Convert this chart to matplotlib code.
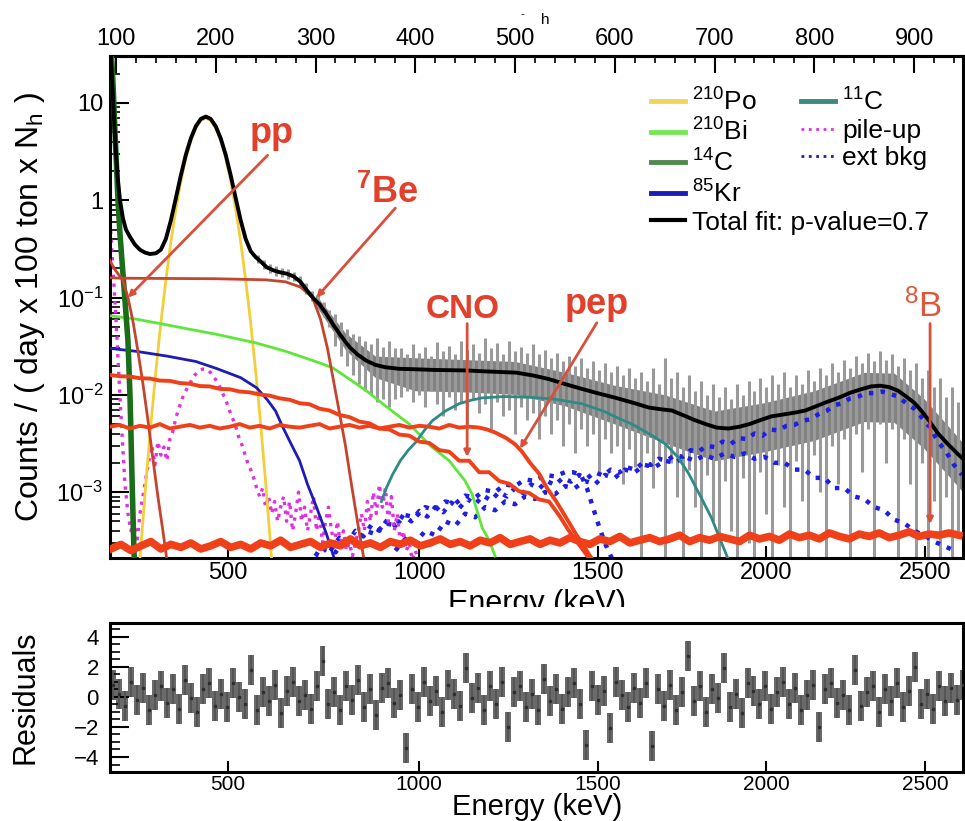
import numpy as np
import matplotlib
matplotlib.use("Agg")
import matplotlib.pyplot as plt
from matplotlib.lines import Line2D
from matplotlib.patches import Rectangle
from matplotlib.ticker import FixedLocator, FixedFormatter, NullFormatter, LogLocator, MultipleLocator

plt.rcParams['font.family'] = ['Liberation Sans', 'DejaVu Sans']
plt.rcParams['mathtext.fontset'] = 'custom'
plt.rcParams['mathtext.rm'] = 'Liberation Sans'
plt.rcParams['mathtext.it'] = 'Liberation Sans:italic'
plt.rcParams['mathtext.bf'] = 'Liberation Sans:bold'

# ---- Data (x in N_h, y in counts / (day x 100 ton x N_h)) ----
top_ticks = [100, 200, 300, 400, 500, 600, 700, 800, 900]
energy_ticks_kev = [500, 1000, 1500, 2000, 2500]
energy_ticks_nh = [212, 404, 583, 752, 911]

# total fit
tot_nh = [94, 96, 98, 100, 102, 104, 107, 110, 114, 119, 124, 129, 134, 140, 145, 150, 155, 160, 165, 170,
          175, 180, 185, 190, 195, 200, 205, 210, 215, 220, 225, 230, 235, 240, 245, 251, 258, 264, 271, 278,
          285, 291, 298, 304, 310, 317, 325, 334, 342, 351, 360, 370, 384, 400, 420, 451, 470, 501, 518, 534,
          550, 567, 584, 601, 618, 634, 646, 657, 668, 680, 691, 702, 714, 725, 735, 746, 757, 770, 782, 791,
          800, 812, 824, 836, 848, 857, 866, 875, 884, 892, 900, 907, 914, 924, 934, 944, 949]
tot_val = [45, 18, 7.0, 3.0, 1.6, 1.0, 0.65, 0.50, 0.42, 0.35, 0.31, 0.29, 0.28, 0.285, 0.31, 0.40, 0.62, 1.05, 1.8, 2.93,
           4.32, 5.75, 6.85, 7.25, 6.85, 5.75, 4.32, 2.93, 1.8, 1.05, 0.62, 0.40, 0.30, 0.26, 0.235, 0.205, 0.19, 0.182, 0.176, 0.165,
           0.145, 0.12, 0.098, 0.085, 0.070, 0.054, 0.041, 0.031, 0.026, 0.0224, 0.0203, 0.0192, 0.0185, 0.0183, 0.018, 0.0178, 0.0174, 0.0169, 0.0158, 0.0145,
           0.0129, 0.0115, 0.0103, 0.0093, 0.0083, 0.0074, 0.0071, 0.0069, 0.0062, 0.0055, 0.0050, 0.0046, 0.0045, 0.0047, 0.0050, 0.0055, 0.0060, 0.0063, 0.0066, 0.0069,
           0.0075, 0.0084, 0.0093, 0.0105, 0.0115, 0.0122, 0.0124, 0.012, 0.011, 0.0096, 0.0083, 0.0069, 0.0056, 0.0040, 0.0031, 0.00245, 0.0022]

# data error bars (upper / lower ends), bins of 6 N_h from 242
data_hi = [0.275, 0.245, 0.222, 0.21, 0.2, 0.196, 0.185, 0.166, 0.14, 0.117,
           0.105, 0.090, 0.074, 0.068, 0.056, 0.047, 0.042, 0.040, 0.036, 0.033,
           0.038, 0.031, 0.036, 0.030, 0.030, 0.026, 0.033, 0.027, 0.031, 0.025,
           0.035, 0.028, 0.032, 0.026, 0.036, 0.029, 0.033, 0.027, 0.038, 0.030,
           0.034, 0.026, 0.036, 0.028, 0.031, 0.027, 0.033, 0.026, 0.029, 0.024,
           0.027, 0.022, 0.025, 0.020, 0.024, 0.019, 0.022, 0.018, 0.021, 0.017,
           0.020, 0.016, 0.019, 0.015, 0.017, 0.014, 0.019, 0.013, 0.024, 0.015,
           0.017, 0.012, 0.016, 0.011, 0.014, 0.010, 0.013, 0.0095, 0.012, 0.0090,
           0.013, 0.010, 0.014, 0.011, 0.015, 0.012, 0.016, 0.013, 0.017, 0.012,
           0.016, 0.013, 0.018, 0.014, 0.019, 0.016, 0.021, 0.017, 0.023, 0.019,
           0.025, 0.021, 0.027, 0.022, 0.028, 0.023, 0.026, 0.020, 0.024, 0.018,
           0.021, 0.015, 0.018, 0.012, 0.015, 0.0095, 0.012, 0.0085]
data_lo = [0.226, 0.198, 0.18, 0.168, 0.161, 0.156, 0.147, 0.131, 0.109, 0.092,
           0.080, 0.063, 0.050, 0.032, 0.025, 0.020, 0.016, 0.013, 0.011, 0.010,
           0.0085, 0.009, 0.0075, 0.009, 0.0095, 0.011, 0.0085, 0.010, 0.0075, 0.011,
           0.008, 0.006, 0.0095, 0.007, 0.0085, 0.005, 0.009, 0.0065, 0.008, 0.0045,
           0.0085, 0.006, 0.007, 0.004, 0.0075, 0.0055, 0.0065, 0.0035, 0.006, 0.004,
           0.0055, 0.003, 0.005, 0.0025, 0.0045, 0.003, 0.004, 0.0015, 0.0035, 0.0025,
           0.003, 0.0012, 0.0028, 0.0018, 0.0001, 0.0025, 0.0011, 0.0022, 0.0001, 0.0020,
           0.0009, 0.0001, 0.0017, 0.0007, 0.0001, 0.0015, 0.0005, 0.0001, 0.0013, 0.0004,
           0.0001, 0.0014, 0.0003, 0.0001, 0.0016, 0.0006, 0.0001, 0.0019, 0.0007, 0.0001,
           0.0021, 0.0008, 0.0001, 0.0024, 0.0010, 0.0001, 0.0030, 0.0012, 0.0035, 0.0001,
           0.0040, 0.0016, 0.0045, 0.0001, 0.0050, 0.0020, 0.0045, 0.0001, 0.0035, 0.0012,
           0.0001, 0.0020, 0.0001, 0.0008, 0.0001, 0.0009, 0.0001, 0.0004]
data_nh = np.arange(len(data_hi)) * 6 + 242
# dense core of the data points
core_nh = [300, 330, 360, 400, 450, 500, 550, 600, 650, 700, 750, 800, 850, 880, 910, 949]
core_hi = [0.108, 0.043, 0.025, 0.024, 0.023, 0.022, 0.017, 0.0125, 0.010, 0.0068, 0.0083, 0.011, 0.017,
           0.0167, 0.0091, 0.0032]
core_lo = [0.084, 0.029, 0.015, 0.011, 0.0107, 0.0101, 0.0077, 0.0050, 0.0032, 0.0021, 0.0026, 0.0034, 0.0053,
           0.0052, 0.0028, 0.0010]

# fit components
po_nh = np.arange(120, 261, 5)
po_val = [5.6e-5, 0.00028, 0.00126, 0.0050, 0.0175, 0.055, 0.151, 0.372, 0.81, 1.57, 2.69, 4.08, 5.51, 6.59, 7.0,
          6.59, 5.51, 4.08, 2.69, 1.57, 0.81, 0.372, 0.151, 0.055, 0.0175, 0.0050, 0.00126, 0.00028, 5.6e-5]
bi_nh = [94, 120, 144, 170, 200, 241, 270, 300, 317, 334, 351, 370, 394, 415, 434, 450, 457, 467, 474, 480]
bi_val = [0.065, 0.060, 0.054, 0.048, 0.042, 0.034, 0.028, 0.022, 0.019, 0.0145, 0.011, 0.0077, 0.005, 0.003,
          0.0021, 0.0013, 0.00095, 0.00043, 0.00032, 0.00022]
c14_nh = [94, 96, 97, 99, 102, 104, 106, 109, 112, 114, 115, 116, 117, 118, 119]
c14_val = [50, 25, 16, 5.0, 1.0, 0.45, 0.24, 0.094, 0.036, 0.01, 0.004, 0.0015, 0.0006, 0.00025, 0.00015]
kr_nh = [94, 120, 151, 180, 201, 225, 241, 252, 260, 267, 275, 284, 292, 301, 311, 318]
kr_val = [0.030, 0.028, 0.025, 0.022, 0.0186, 0.015, 0.0118, 0.0088, 0.0068, 0.0047, 0.0032, 0.0021, 0.0012,
          0.0007, 0.00037, 0.00022]
c11_nh = [366, 371, 377, 385, 393, 401, 409, 417, 430, 444, 456, 467, 490, 517, 540, 567, 590, 601, 617, 634,
          651, 663, 674, 686, 697, 707, 714]
c11_val = [0.0008, 0.0011, 0.0015, 0.0021, 0.0027, 0.0033, 0.0043, 0.0054, 0.0068, 0.0081, 0.0088, 0.0093, 0.0096,
           0.0094, 0.0090, 0.0081, 0.0067, 0.0059, 0.0050, 0.0040, 0.0031, 0.0023, 0.00155, 0.0009, 0.00054, 0.00030, 0.0002]
pu_nh = np.arange(94, 407, 3)
pu_val = [0.6, 0.2, 0.06, 0.015, 0.004, 0.0012, 0.0006, 0.0004, 0.0005, 0.0003,
          0.0006, 0.0009, 0.0014, 0.0021, 0.0030, 0.0019, 0.0033, 0.0024, 0.0029, 0.0021,
          0.0035, 0.0042, 0.0058, 0.0072, 0.0090, 0.0105, 0.0120, 0.0136, 0.0155, 0.0168,
          0.0178, 0.0184, 0.0183, 0.0177, 0.0163, 0.0148, 0.0133, 0.0115, 0.0098, 0.0083,
          0.0068, 0.0057, 0.0047, 0.0037, 0.0031, 0.0025, 0.0020, 0.0017, 0.0014, 0.0011,
          0.0009, 0.0011, 0.0007, 0.0009, 0.0006, 0.0008, 0.0005, 0.0007, 0.0009, 0.0005,
          0.0008, 0.0004, 0.0006, 0.0010, 0.0005, 0.0007, 0.0004, 0.0006, 0.0009, 0.0004,
          0.0006, 0.0003, 0.0005, 0.0007, 0.0004, 0.0003, 0.0005, 0.00028, 0.0004, 0.00025,
          0.0003, 0.00022, 0.0003, 0.0004, 0.0006, 0.0004, 0.0008, 0.0005, 0.0010, 0.0006,
          0.0012, 0.0007, 0.0011, 0.0005, 0.0009, 0.0004, 0.0006, 0.0003, 0.0004, 0.00025,
          0.0003, 0.0002, 0.00025, 0.0002, 0.00018]
# external background (three components)
tl_nh = np.arange(300, 949, 8)
tl_val = [0.00022, 0.00030, 0.00026, 0.00034, 0.00030, 0.00040, 0.00035, 0.00046, 0.00040, 0.00052,
          0.00045, 0.00058, 0.0005, 0.00064, 0.00056, 0.0007, 0.00062, 0.00078, 0.00068, 0.00085,
          0.00075, 0.00092, 0.00082, 0.001, 0.0009, 0.0011, 0.00098, 0.0012, 0.00108, 0.0013,
          0.00118, 0.0014, 0.00128, 0.0015, 0.00138, 0.0016, 0.00148, 0.0017, 0.00158, 0.0018,
          0.0017, 0.0020, 0.0019, 0.0022, 0.0021, 0.0024, 0.0023, 0.0027, 0.0026, 0.0030,
          0.0029, 0.0033, 0.0031, 0.0036, 0.0035, 0.0040, 0.0038, 0.0044, 0.0043, 0.0048,
          0.0049, 0.0054, 0.0056, 0.0063, 0.0068, 0.0078, 0.0082, 0.0092, 0.0096, 0.0104,
          0.0104, 0.0108, 0.0102, 0.0096, 0.0082, 0.0072, 0.0058, 0.0046, 0.0033, 0.0026,
          0.0019, 0.0015]
bi_ext_nh = np.arange(380, 941, 10)
bi_ext_val = [0.00025, 0.00033, 0.0003, 0.0004, 0.00036, 0.0005, 0.00045, 0.0006, 0.00055, 0.0007,
              0.00065, 0.0008, 0.00075, 0.0009, 0.00085, 0.0010, 0.00095, 0.00115, 0.0011, 0.0013,
              0.0012, 0.0015, 0.0014, 0.0017, 0.0016, 0.0019, 0.0018, 0.0021, 0.0020, 0.0023,
              0.0021, 0.0024, 0.0022, 0.0025, 0.0023, 0.0025, 0.0022, 0.0023, 0.0020, 0.0020,
              0.0017, 0.0017, 0.0014, 0.0014, 0.0011, 0.0011, 0.0009, 0.00085, 0.0007, 0.00065,
              0.00052, 0.00048, 0.0004, 0.00036, 0.00031, 0.00028, 0.00025]
k40_nh = [300, 310, 320, 330, 340, 350, 360, 370, 380, 390, 400, 410, 420, 430, 440, 450, 460, 470, 480, 490,
          500, 510, 520, 530, 540, 550, 558, 566, 572, 578, 584, 590, 596, 600]
k40_val = [0.0002, 0.00026, 0.00024, 0.00032, 0.0003, 0.0004, 0.00037, 0.00048, 0.00045, 0.00058,
           0.00055, 0.0007, 0.00065, 0.0008, 0.00076, 0.00092, 0.00088, 0.00105, 0.001, 0.0012,
           0.00115, 0.00135, 0.0013, 0.0015, 0.00145, 0.0016, 0.0016, 0.0015, 0.0011, 0.0007,
           0.00045, 0.0003, 0.00022, 0.00018]
# neutrino components
pp_nh = [94, 98, 103, 107, 112, 117, 122, 127, 132, 137, 142, 147, 151]
pp_val = [0.24, 0.20, 0.17, 0.15, 0.10, 0.057, 0.028, 0.013, 0.0055, 0.0022, 0.0009, 0.0004, 0.0002]
be7_nh = [94, 104, 150, 200, 250, 270, 285, 297, 305, 312, 318, 324, 330, 336, 342, 348]
be7_val = [0.16, 0.158, 0.157, 0.156, 0.152, 0.145, 0.128, 0.10, 0.06, 0.03, 0.014, 0.0065, 0.003, 0.0012,
           0.0005, 0.00022]
cno_nh = np.arange(94, 575, 10)
cno_val = [0.0160, 0.0155, 0.0154, 0.0148, 0.0147, 0.0140, 0.0139, 0.0132, 0.0130, 0.0123,
           0.0122, 0.0115, 0.0114, 0.0108, 0.0106, 0.0101, 0.0098, 0.0092, 0.0089, 0.0082,
           0.0080, 0.0072, 0.0069, 0.0062, 0.0059, 0.0053, 0.0051, 0.0045, 0.0044, 0.0039,
           0.0038, 0.0033, 0.0032, 0.0027, 0.0026, 0.0021, 0.0021, 0.0016, 0.0016, 0.0013,
           0.00122, 0.00102, 0.00098, 0.00084, 0.0008, 0.00058, 0.0004, 0.00029, 0.00021]
pep_nh = [94, 104, 114, 124, 134, 144, 154, 164, 174, 184, 194, 204, 214, 224, 234, 244, 254, 264, 274, 284,
          294, 304, 314, 324, 334, 344, 354, 364, 374, 384, 394, 404, 414, 424, 434, 444, 454,
          464, 472, 480, 491, 500, 507, 515, 524, 532, 541, 551, 561, 568, 574, 578]
pep_val = [0.0047, 0.0049, 0.0045, 0.0048, 0.0046, 0.0050, 0.0045, 0.0047, 0.0049, 0.0046,
           0.0048, 0.0045, 0.0047, 0.0050, 0.0046, 0.0048, 0.0045, 0.0049, 0.0047, 0.0046,
           0.0048, 0.0050, 0.0045, 0.0047, 0.0049, 0.0046, 0.0048, 0.0045, 0.0047, 0.0049,
           0.0046, 0.0048, 0.0047, 0.0045, 0.0049, 0.0046, 0.0047,
           0.0046, 0.0044, 0.0041, 0.0036, 0.0031, 0.0026, 0.0020, 0.00155, 0.0011, 0.00081, 0.00055,
           0.00037, 0.00029, 0.00023, 0.0002]
b8_nh = np.arange(95, 946, 10)
b8_val = [0.00026, 0.00029, 0.00025, 0.00028, 0.00031, 0.00026, 0.00029, 0.00027, 0.00030, 0.00026,
          0.00028, 0.00031, 0.00027, 0.00029, 0.00026, 0.00030, 0.00028, 0.00032, 0.00027, 0.00029,
          0.00031, 0.00027, 0.00030, 0.00028, 0.00033, 0.00028, 0.00030, 0.00027, 0.00031, 0.00029,
          0.00032, 0.00028, 0.00030, 0.00033, 0.00029, 0.00031, 0.00028, 0.00032, 0.00030, 0.00034,
          0.00029, 0.00031, 0.00033, 0.00029, 0.00032, 0.00030, 0.00034, 0.00031, 0.00029, 0.00033,
          0.00031, 0.00035, 0.00030, 0.00032, 0.00034, 0.00031, 0.00033, 0.00036, 0.00031, 0.00034,
          0.00032, 0.00035, 0.00033, 0.00031, 0.00036, 0.00033, 0.00035, 0.00032, 0.00037, 0.00034,
          0.00036, 0.00033, 0.00038, 0.00035, 0.00033, 0.00037, 0.00035, 0.00038, 0.00034, 0.00036,
          0.00039, 0.00035, 0.00037, 0.00036, 0.00038, 0.00036]

# residuals, bins of 6 N_h from 97
resid = [0.8, 0.2, -0.6, 1.0, -0.2, 0.6, -0.9, 0.1, 0.7, -0.4,
         0.5, -0.8, 1.1, -0.1, -1.0, 0.5, 0.9, -0.6, 0.2, -0.7,
         0.9, 0.0, -0.5, 1.8, -0.9, 0.3, -0.3, 0.8, -1.1, 0.4,
         1.0, -0.3, 0.1, -0.8, 0.7, 2.4, -0.5, 0.3, -0.9, 0.7,
         -0.2, 1.1, -0.7, 0.5, -1.2, 0.6, 0.9, -0.4, 0.1, -3.4,
         0.5, -0.7, 1.0, -0.3, 0.4, -1.0, 0.8, 0.2, -0.6, 1.9,
         -0.1, 0.6, -0.9, 0.7, -0.5, 1.0, -2.0, 0.3, 0.7, -0.7,
         0.2, -0.9, 1.2, -0.3, 0.5, -0.8, 0.3, 0.9, -0.5, -3.2,
         0.7, -0.2, 0.4, -2.1, 1.0, 0.1, -0.7, 0.6, -0.4, 0.9,
         -3.3, 0.5, -0.6, 0.8, -0.9, 0.3, 2.7, -0.3, 0.7, -1.0,
         0.5, -0.1, 1.9, -0.7, 0.2, -1.1, 0.9, 0.4, -0.5, 0.7,
         -0.8, 0.3, 1.0, -0.5, 0.6, -0.9, 0.1, 0.8, -2.0, 0.5,
         0.9, -0.4, 0.1, -0.9, 1.8, -0.6, 0.3, 0.7, -1.0, 0.5,
         -0.3, 0.9, -0.7, 0.4, 2.0, -0.5, 0.2, -0.8, 0.7, -0.3,
         0.6, -0.2, 0.8]
resid_nh = np.arange(len(resid)) * 6 + 97

# colours
red_lab = '#e2402a'
red_arrow = '#d9503a'
col_red = '#f0401a'
col_brown = '#c4452f'
col_ext = '#1e1ee6'

fig = plt.figure(figsize=(9.65, 8.21), dpi=100)
ax = fig.add_axes([0.11399, 0.32034, 0.88394, 0.61145])
axr = fig.add_axes([0.11399, 0.05968, 0.88394, 0.18149])

# ---- main panel ----
ax.fill_between(core_nh, core_lo, core_hi, color='#828282', lw=0, zorder=1)
ax.vlines(data_nh, data_lo, data_hi, color='#9a9a9a', lw=2.2, zorder=1)
ax.plot(tl_nh, tl_val, color=col_ext, ls=':', lw=3.2, zorder=2)
ax.plot(bi_ext_nh, bi_ext_val, color=col_ext, ls=':', lw=3.2, zorder=2)
ax.plot(k40_nh, k40_val, color=col_ext, ls=':', lw=3.2, zorder=2)
ax.plot(pu_nh, pu_val, color='#e030e0', ls=':', lw=2.4, zorder=2)
ax.plot(po_nh, po_val, color='#f2cf3a', lw=2.0, zorder=3)
ax.plot(bi_nh, bi_val, color='#5ee63a', lw=2.0, zorder=3)
ax.plot(kr_nh, kr_val, color='#1c1cb8', lw=2.0, zorder=3)
ax.plot(c11_nh, c11_val, color='#2e8b84', lw=2.0, zorder=3)
ax.plot(c14_nh, c14_val, color='#1a6e1a', lw=4.0, zorder=3)
ax.plot(pp_nh, pp_val, color=col_brown, lw=2.0, zorder=3)
ax.plot(be7_nh, be7_val, color=col_brown, lw=2.0, zorder=3)
ax.plot(cno_nh, cno_val, color=col_red, lw=2.8, zorder=3)
ax.plot(pep_nh, pep_val, color=col_red, lw=2.8, zorder=3)
ax.plot(b8_nh, b8_val, color=col_red, lw=5.5, zorder=4)
ax.plot(tot_nh, tot_val, color='black', lw=2.8, zorder=5)

ax.set_xlim(94, 949)
ax.set_yscale('log')
ax.set_ylim(2.1e-4, 30.4)

ax.yaxis.set_major_locator(FixedLocator([1e-3, 1e-2, 1e-1, 1, 10]))
ax.yaxis.set_major_formatter(FixedFormatter(['$10^{-3}$', '$10^{-2}$', '$10^{-1}$', '1', '10']))
ax.yaxis.set_minor_locator(LogLocator(base=10, subs=range(2, 10), numticks=20))
ax.yaxis.set_minor_formatter(NullFormatter())
ax.set_xticks(energy_ticks_nh)
ax.set_xticklabels([str(e) for e in energy_ticks_kev])
ax.tick_params(axis='y', which='major', direction='in', length=14, width=1.5, labelsize=17, pad=5)
ax.tick_params(axis='y', which='minor', direction='in', length=7, width=1.2)
ax.tick_params(axis='x', which='major', direction='in', length=9, width=1.5, labelsize=17, pad=3)
for s in ax.spines.values():
    s.set_linewidth(2.2)

sec = ax.secondary_xaxis('top')
sec.set_xticks(top_ticks)
sec.xaxis.set_minor_locator(MultipleLocator(20))
sec.tick_params(which='major', direction='in', length=12, width=1.5, labelsize=17, pad=4)
sec.tick_params(which='minor', direction='in', length=5, width=1.2)
sec.spines['top'].set_linewidth(2.2)

# legends
h1 = [Line2D([], [], color='#f2d45a', lw=3.5), Line2D([], [], color='#74e85a', lw=3.5),
      Line2D([], [], color='#4f8a4f', lw=3.5), Line2D([], [], color='#1c1cb8', lw=3.5),
      Line2D([], [], color='black', lw=3)]
l1 = ['$^{210}$Po', '$^{210}$Bi', '$^{14}$C', '$^{85}$Kr', 'Total fit: p-value=0.7']
h2 = [Line2D([], [], color='#3a8a80', lw=3.5), Line2D([], [], color='#e030e0', lw=2, ls=':'),
      Line2D([], [], color='#1e1eb0', lw=2, ls=':')]
l2 = ['$^{11}$C', 'pile-up', 'ext bkg']
leg1 = ax.legend(h1, l1, loc='upper left', bbox_to_anchor=(0.634, 0.936), frameon=False, fontsize=19,
                 handlelength=1.3, handletextpad=0.25, labelspacing=0.13, borderpad=0, borderaxespad=0)
ax.add_artist(leg1)
ax.legend(h2, l2, loc='upper left', bbox_to_anchor=(0.81, 0.936), frameon=False, fontsize=19,
          handlelength=1.3, handletextpad=0.25, labelspacing=0.13, borderpad=0, borderaxespad=0)

# neutrino labels and arrows
ax.text(256, 3.87, 'pp', color=red_lab, fontsize=26, fontweight='bold', ha='center', va='baseline', zorder=6)
ax.text(372, 0.93, r'$^{\mathbf{7}}$Be', color=red_lab, fontsize=26, fontweight='bold', ha='center',
        va='baseline', zorder=6)
ax.text(447, 0.0622, 'CNO', color=red_lab, fontsize=24, fontweight='bold', ha='center', va='baseline', zorder=6)
ax.text(582, 0.0684, 'pep', color=red_lab, fontsize=26, fontweight='bold', ha='center', va='baseline', zorder=6)
ax.text(909, 0.0637, r'$^{8}$B', color='#e0583a', fontsize=25, ha='center', va='baseline', zorder=6)
arrow = dict(arrowstyle='-|>', color=red_arrow, lw=2, mutation_scale=9, shrinkA=0, shrinkB=0)
ax.annotate('', xy=(112, 0.1), xytext=(252, 2.9), arrowprops=arrow, zorder=6)
ax.annotate('', xy=(301, 0.1), xytext=(380, 0.83), arrowprops=arrow, zorder=6)
ax.annotate('', xy=(452, 0.0023), xytext=(452, 0.054), arrowprops=arrow, zorder=6)
ax.annotate('', xy=(505, 0.0028), xytext=(582, 0.055), arrowprops=arrow, zorder=6)
ax.annotate('', xy=(916, 0.00047), xytext=(916, 0.054), arrowprops=arrow, zorder=6)

# ---- residual panel ----
r = np.array(resid)
axr.fill_between(resid_nh, r - 1, r + 1, step='mid', color='#6a6a6a', lw=0, zorder=1)
axr.vlines(resid_nh, r - 1, r + 1, color='#555555', lw=1.4, zorder=2)
axr.plot(resid_nh, r, 's', color='#2e2e2e', ms=1.6, zorder=3)
axr.set_xlim(94, 949)
axr.set_ylim(-5.0, 4.93)
axr.set_yticks([-4, -2, 0, 2, 4])
axr.set_yticklabels(['\u22124', '\u22122', '0', '2', '4'])
axr.yaxis.set_minor_locator(MultipleLocator(0.5))
axr.set_xticks(energy_ticks_nh)
axr.set_xticklabels([str(e) for e in energy_ticks_kev])
axr.tick_params(axis='y', which='major', direction='in', length=14, width=1.5, labelsize=16, pad=8)
axr.tick_params(axis='y', which='minor', direction='in', length=7, width=1.2)
axr.tick_params(axis='x', which='major', direction='in', length=8, width=1.5, labelsize=15, pad=2)
for s in axr.spines.values():
    s.set_linewidth(2.2)

# ---- axis titles ----
fig.text(30 / 965, 1 - 307 / 821, r'Counts / ( day x 100 ton x N$_{\mathrm{h}}$ )', rotation=90,
         ha='center', va='center', fontsize=23)
fig.text(537 / 965, 1 - 612 / 821, 'Energy (keV)', ha='center', va='baseline', fontsize=22)
fig.add_artist(Rectangle((0.3, 1 - 621 / 821), 0.45, 14 / 821, transform=fig.transFigure,
                         facecolor='white', edgecolor='none', zorder=10))
fig.text(26 / 965, 1 - 697 / 821, 'Residuals', rotation=90, ha='center', va='center', fontsize=22)
fig.text(537 / 965, 1 - 815 / 821, 'Energy (keV)', ha='center', va='baseline', fontsize=21)
fig.text(545 / 965, 1 - 24 / 821, 'h', ha='center', va='baseline', fontsize=11)
fig.text(522 / 965, 1 - 14 / 821, '-', ha='center', va='center', fontsize=8)

fig.savefig('out.png', dpi=100)
